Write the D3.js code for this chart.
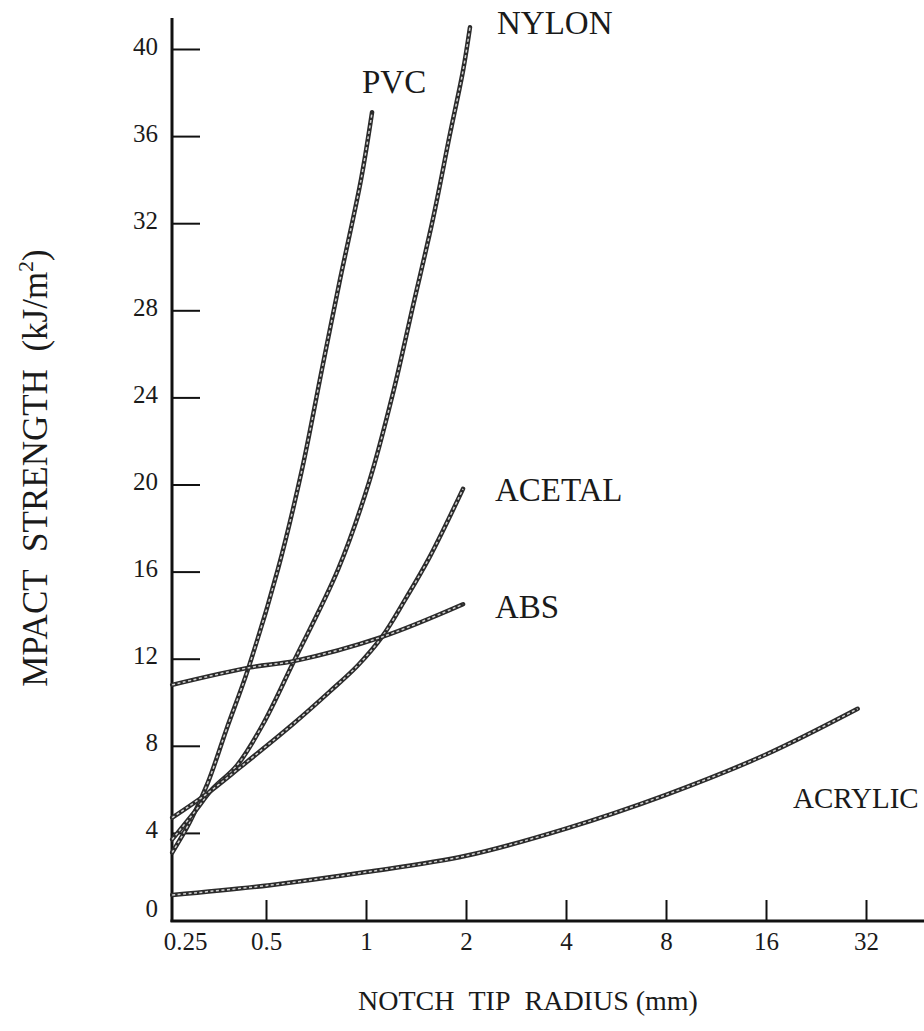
<!DOCTYPE html>
<html><head><meta charset="utf-8">
<script src="https://cdn.jsdelivr.net/npm/d3@7"></script>
<style>
body{margin:0;background:#fff}
svg{display:block}
text{font-family:"Liberation Serif","Times New Roman",serif;fill:#1a1a1a}
</style>
</head><body>
<svg id="chart" width="924" height="1031"></svg>
<script>
// ---- data ----
const xTickValues = [0.25, 0.5, 1, 2, 4, 8, 16, 32];
const xTickLabels = ["0.25", "0.5", "1", "2", "4", "8", "16", "32"];
const yTickValues = [0, 4, 8, 12, 16, 20, 24, 28, 32, 36, 40];

const pvcX = [0.261, 0.295, 0.334, 0.381, 0.441, 0.543, 0.642, 0.737, 0.835, 0.966, 1.043];
const pvcY = [3.1, 4.5, 6.3, 8.8, 11.5, 16.1, 20.7, 25.3, 29.4, 34.0, 37.1];

const nylonX = [0.261, 0.306, 0.344, 0.409, 0.49, 0.603, 0.824, 1.021, 1.206, 1.385, 1.591, 1.79, 1.959, 2.056];
const nylonY = [3.7, 5.0, 6.0, 7.1, 9.0, 11.8, 16.1, 20.1, 24.2, 28.2, 32.2, 36.1, 39.0, 41.0];

const acetalX = [0.261, 0.332, 0.417, 0.603, 0.779, 0.946, 1.117, 1.31, 1.558, 1.959];
const acetalY = [4.7, 5.8, 7.0, 9.0, 10.5, 11.7, 13.0, 14.7, 16.7, 19.8];

const absX = [0.261, 0.448, 0.611, 1.117, 1.959];
const absY = [10.8, 11.6, 11.9, 13.0, 14.5];

const acrylicX = [0.261, 0.514, 1, 2, 4, 8, 16, 30.2];
const acrylicY = [1.15, 1.6, 2.2, 2.95, 4.2, 5.75, 7.6, 9.7];

const seriesNames = ["PVC", "NYLON", "ACETAL", "ABS", "ACRYLIC"];
const seriesXs = [pvcX, nylonX, acetalX, absX, acrylicX];
const seriesYs = [pvcY, nylonY, acetalY, absY, acrylicY];

const xTitle = "NOTCH\u00A0\u00A0TIP\u00A0\u00A0RADIUS (mm)";
const yTitleMain = "MPACT\u00A0\u00A0STRENGTH\u00A0\u00A0(kJ/m";
const yTitleSup = "2";
const yTitleEnd = ")";

// ---- layout ----
const axisLeftX = 172;
const axisRightX = 924;
const axisTopY = 18;
const labelPos = {
  PVC: [362, 93], NYLON: [497, 34], ACETAL: [495, 501], ABS: [495, 618], ACRYLIC: [793, 808]
};
const labelSize = { PVC: 33, NYLON: 33, ACETAL: 33, ABS: 33, ACRYLIC: 29 };

const svg = d3.select("#chart");
const x = d3.scaleLog().base(2).domain([0.25, 32]).range([166, 866]);
const y = d3.scaleLinear().domain([0, 40]).range([920, 49]);

// axis lines
svg.append("line").attr("x1", axisLeftX).attr("x2", axisLeftX)
  .attr("y1", y(0) + 2).attr("y2", axisTopY)
  .attr("stroke", "#111").attr("stroke-width", 3);
svg.append("line").attr("x1", axisLeftX - 1.5).attr("x2", axisRightX)
  .attr("y1", y(0) + 1).attr("y2", y(0) + 1)
  .attr("stroke", "#111").attr("stroke-width", 3);

// y axis
const gy = svg.append("g").attr("transform", `translate(${axisLeftX},0)`)
  .call(d3.axisLeft(y).tickValues(yTickValues).tickSize(-28).tickPadding(14).tickFormat(d3.format("d")));
gy.select(".domain").remove();
gy.selectAll(".tick line").attr("stroke", "#111").attr("stroke-width", 2)
  .filter(d => d === 0).remove();
gy.selectAll(".tick text").attr("font-size", 25).attr("fill", "#1a1a1a")
  .attr("font-family", '"Liberation Serif", serif')
  .attr("y", d => d === 0 ? -12 : -3);

// x axis
const gx = svg.append("g").attr("transform", `translate(0,${y(0) + 1})`)
  .call(d3.axisBottom(x).tickValues(xTickValues).tickSize(-21).tickPadding(11)
    .tickFormat((d, i) => xTickLabels[i]));
gx.select(".domain").remove();
gx.selectAll(".tick line").attr("stroke", "#111").attr("stroke-width", 2)
  .filter(d => d === 0.25).remove();
gx.selectAll(".tick text").attr("font-size", 25).attr("fill", "#1a1a1a")
  .attr("font-family", '"Liberation Serif", serif')
  .attr("dx", d => d === 0.25 ? 19 : 0);

// curves
const lineGen = d3.line().x(d => x(d[0])).y(d => y(d[1])).curve(d3.curveCatmullRom.alpha(0.5));
seriesNames.forEach((name, i) => {
  const pts = seriesXs[i].map((v, j) => [v, seriesYs[i][j]]);
  svg.append("path").datum(pts).attr("d", lineGen)
    .attr("fill", "none").attr("stroke", "#2b2b2b").attr("stroke-width", 4.5)
    .attr("stroke-linecap", "round");
  svg.append("path").datum(pts).attr("d", lineGen)
    .attr("fill", "none").attr("stroke", "#cfcfcf").attr("stroke-width", 1.5)
    .attr("stroke-dasharray", "3,2.5");
  svg.append("text").attr("x", labelPos[name][0]).attr("y", labelPos[name][1])
    .attr("font-size", labelSize[name]).text(name);
});

// titles
svg.append("text").attr("x", 528).attr("y", 1010).attr("text-anchor", "middle")
  .attr("font-size", 28).text(xTitle);
const yt = svg.append("text").attr("transform", "translate(47,468) rotate(-90)")
  .attr("text-anchor", "middle").attr("font-size", 35);
yt.append("tspan").text(yTitleMain);
yt.append("tspan").attr("dy", -14).attr("font-size", 22).text(yTitleSup);
yt.append("tspan").attr("dy", 14).text(yTitleEnd);
</script>
</body></html>
